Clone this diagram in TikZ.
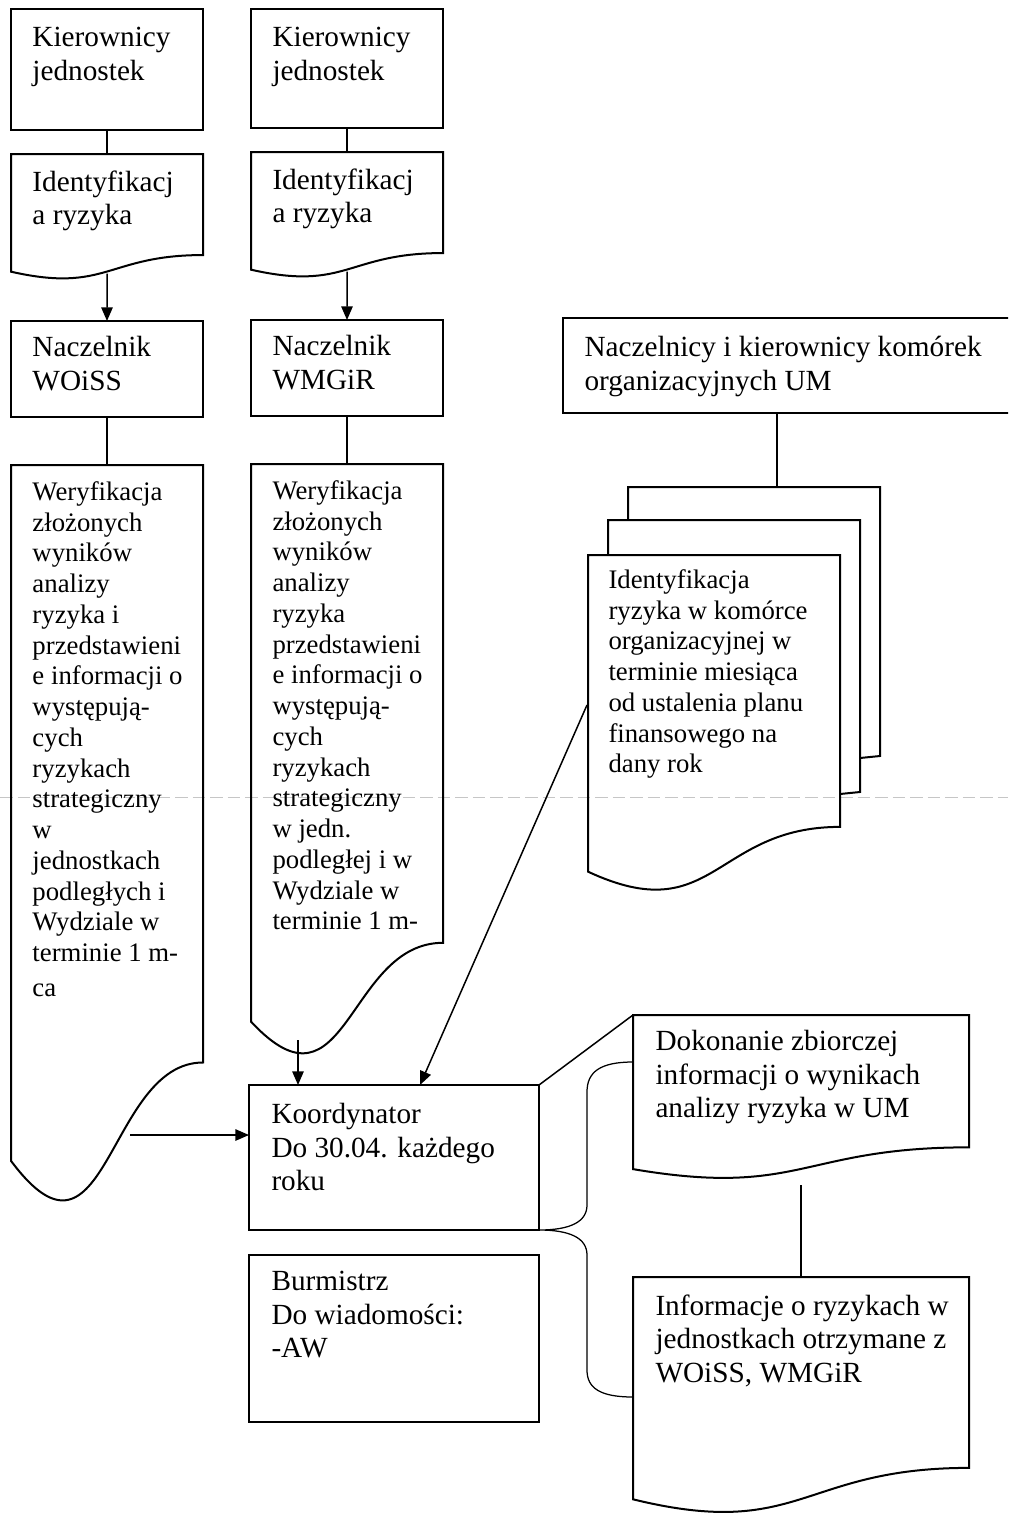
\documentclass[tikz,border=0pt]{standalone}
\usepackage{fontspec}
\setmainfont{Liberation Serif}
\usetikzlibrary{arrows.meta,calc}

\newcommand{\pu}{0.4pt}
% outline of a document symbol round a frame node
\newcommand{\docline}[1]{%
  \draw[line width=0.8pt] (#1.north west) -- (#1.north east)
    -- ($(#1.north east)!0.802!(#1.south east)$)
    .. controls ($(#1.north)!0.802!(#1.south)$) and ($(#1.north)!1.107!(#1.south)$)
    .. ($(#1.north west)!0.934!(#1.south west)$) -- cycle;}

\begin{document}
\begin{tikzpicture}[x=0.4pt, y=-0.4pt,
    doc/.style 2 args={anchor=north west, inner sep=0pt, outer sep=0pt,
      minimum width=#1*\pu, minimum height=#2*\pu},
    blok/.style 2 args={doc={#1}{#2}, draw, line width=0.8pt},
    txt/.style={anchor=north west, align=left, inner sep=0pt,
      font=\fontsize{11.7}{13.4}\selectfont},
    tall/.style={txt, font=\fontsize{10.7}{12.3}\selectfont},
    link/.style={line width=0.6pt},
    arr/.style={line width=0.6pt, -{Triangle[length=5.5pt, width=4.6pt]}}]

  \useasboundingbox (0,0) rectangle (1008,1514);
  \clip (0,0) rectangle (1008,1514);

  % trace of the page break
  \draw[gray!45, dash pattern=on 5pt off 2pt, line width=0.4pt] (0,797) -- (1008,797);

  % left column
  \node[blok={192}{121}] (kier1) at (11,9) {};
  \node[doc={192}{126}] (ident1) at (11,154) {};
  \docline{ident1}
  \node[blok={192}{96}] (nacz1) at (11,321) {};
  \node[doc={192}{745}] (weryf1) at (11,465) {};
  \docline{weryf1}

  \node[txt] (kier1t) at ($(kier1.north west)+(21,18)$) {Kierownicy\\jednostek};
  \node[txt] (ident1t) at ($(ident1.north west)+(21,16)$) {Identyfikacj\\a ryzyka};
  \node[txt] (nacz1t) at ($(nacz1.north west)+(21,15)$) {Naczelnik\\WOiSS};
  \node[tall] (weryf1t) at ($(weryf1.north west)+(21,16)$) {Weryfikacja\\złożonych\\wyników\\analizy\\ryzyka i\\przedstawieni\\e informacji o\\występują-\\cych\\ryzykach\\strategiczny\\w\\jednostkach\\podległych i\\Wydziale w\\terminie 1 m-\\[1.6pt]ca};

  % middle column
  \node[blok={192}{119}] (kier2) at (251,9) {};
  \node[doc={192}{126}] (ident2) at (251,152) {};
  \docline{ident2}
  \node[blok={192}{96}] (nacz2) at (251,320) {};
  \node[doc={192}{597}] (weryf2) at (251,464) {};
  \docline{weryf2}

  \node[txt] (kier2t) at ($(kier2.north west)+(21,18)$) {Kierownicy\\jednostek};
  \node[txt] (ident2t) at ($(ident2.north west)+(21,16)$) {Identyfikacj\\a ryzyka};
  \node[txt] (nacz2t) at ($(nacz2.north west)+(21,15)$) {Naczelnik\\WMGiR};
  \node[tall] (weryf2t) at ($(weryf2.north west)+(21,16)$) {Weryfikacja\\złożonych\\wyników\\analizy\\ryzyka\\przedstawieni\\e informacji o\\występują-\\cych\\ryzykach\\strategiczny\\w jedn.\\podległej i w\\Wydziale w\\terminie 1 m-};

  % right column
  \node[blok={460}{95}] (naczum) at (563,318) {};
  \node[txt] (naczumt) at ($(naczum.north west)+(21,18)$) {Naczelnicy i kierownicy komórek\\organizacyjnych UM};

  % pages behind the front document
  \draw[line width=0.8pt] (628,520) -- (628,487) -- (880,487) -- (880,756) -- (860,758);
  \draw[line width=0.8pt] (608,555) -- (608,520) -- (860,520) -- (860,792) -- (840,794);
  \node[doc={252}{339}] (idum) at (588,555) {};
  \docline{idum}
  \node[tall] (idumt) at ($(idum.north west)+(20,14)$) {Identyfikacja\\ryzyka w komórce\\organizacyjnej w\\terminie miesiąca\\od ustalenia planu\\finansowego na\\dany rok};

  % bottom part
  \node[blok={290}{145}] (koord) at (249,1085) {};
  \node[blok={290}{167}] (burm) at (249,1255) {};
  \node[doc={336}{165}] (dok) at (633,1015) {};
  \docline{dok}
  \node[doc={336}{238}] (inf) at (633,1277) {};
  \docline{inf}

  \node[txt] (koordt) at ($(koord.north west)+(22,18)$) {Koordynator\\Do 30.04. każdego\\roku};
  \node[txt] (burmt) at ($(burm.north west)+(22,16)$) {Burmistrz\\Do wiadomości:\\-AW};
  \node[txt] (dokt) at ($(dok.north west)+(22,15)$) {Dokonanie zbiorczej\\informacji o wynikach\\analizy ryzyka w UM};
  \node[txt] (inft) at ($(inf.north west)+(22,17)$) {Informacje o ryzykach w\\jednostkach otrzymane z\\WOiSS, WMGiR};

  % connectors
  \coordinate (w1out) at (130,1135);
  \coordinate (w2out) at (298,1040);
  \coordinate (umtop) at (777,487);

  \draw[link] (kier1.south) -- (ident1.north);
  \draw[arr] ($(ident1.north)!0.95!(ident1.south)$) -- (nacz1.north);
  \draw[link] (nacz1.south) -- (weryf1.north);
  \draw[link] (kier2.south) -- (ident2.north);
  \draw[arr] ($(ident2.north)!0.95!(ident2.south)$) -- (nacz2.north);
  \draw[link] (nacz2.south) -- (weryf2.north);
  \draw[link] (umtop |- naczum.south) -- (umtop);

  \draw[arr] (w1out) -- (w1out -| koord.west);
  \draw[arr] (w2out) -- (w2out |- koord.north);
  \draw[arr] ($(idum.north west)+(-1,150)$) -- ($(koord.north west)+(171,0)$);
  \draw[link] (koord.north east) -- (dok.north west);
  \draw[link] (inf.north) -- ++(0,-92);

  % brace
  \draw[line width=0.5pt] ($(dok.north west)+(0,47)$) .. controls (600,1062) and (587,1072) .. (587,1092)
    -- (587,1205) .. controls (587,1222) and (570,1230) .. (koord.south east)
    .. controls (570,1230) and (587,1238) .. (587,1255)
    -- (587,1370) .. controls (587,1388) and (600,1397) .. ($(inf.north west)+(0,120)$);
\end{tikzpicture}
\end{document}
